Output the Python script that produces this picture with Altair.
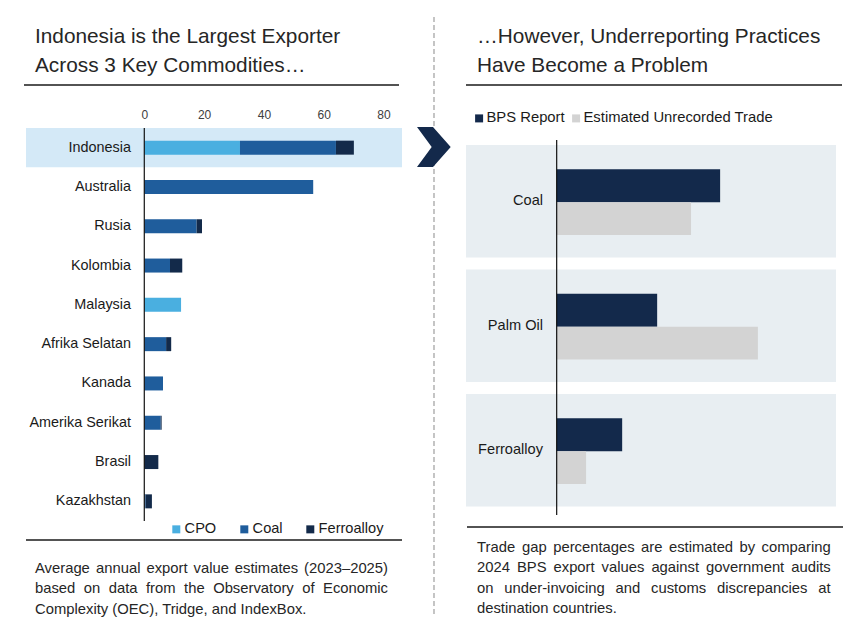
import altair as alt
import pandas as pd

# ---------------- data ----------------
countries = ["Indonesia", "Australia", "Rusia", "Kolombia", "Malaysia",
             "Afrika Selatan", "Kanada", "Amerika Serikat", "Brasil", "Kazakhstan"]
cpo_values = [32.0, 0, 0, 0, 12.3, 0, 0, 0, 0, 0]
coal_values = [32.1, 56.5, 17.5, 8.6, 0, 7.3, 6.25, 5.5, 0, 0.45]
ferro_values = [6.0, 0, 1.8, 4.1, 0, 1.7, 0, 0.3, 4.7, 2.1]
commodities = ["CPO", "Coal", "Ferroalloy"]
x_ticks = [0, 20, 40, 60, 80]
highlighted = ["Indonesia"]

products = ["Coal", "Palm Oil", "Ferroalloy"]
series = ["BPS Report", "Estimated Unrecorded Trade"]
bps_values = [58.4, 35.9, 23.4]
unrecorded_values = [48.0, 71.9, 10.5]

title_left = ["Indonesia is the Largest Exporter", "Across 3 Key Commodities…"]
title_right = ["…However, Underreporting Practices", "Have Become a Problem"]
caption_left = ["Average annual export value estimates (2023–2025)",
                "based on data from the Observatory of Economic",
                "Complexity (OEC), Tridge, and IndexBox."]
caption_right = ["Trade gap percentages are estimated by comparing",
                 "2024 BPS export values against government audits",
                 "on under-invoicing and customs discrepancies at",
                 "destination countries."]

# ---------------- styling ----------------
FONT = "Liberation Sans"
TXT = "#1a1a1a"
TITLE_C = "#262626"
C_CPO, C_COAL, C_FERRO = "#4aafe0", "#1f5d9c", "#132a4a"
C_HI = "#d4e9f7"
C_BPS, C_UNREC, C_PANEL = "#13294b", "#d3d3d3", "#e8eef2"

LW, LH = 377, 393          # left plot area (origin at 25,128)
RW, RH = 370, 393          # right plot area (origin at 466,128)
L_MIN, L_MAX = -39.9, 86.2
R_MIN, R_MAX = -32.4, 99.8

# Arial / Liberation Sans advance widths (per 1000 em) for text layout
_W = dict(zip("abcdefghijklmnopqrstuvwxyz",
              [556, 556, 500, 556, 556, 278, 556, 556, 222, 222, 500, 222, 833,
               556, 556, 556, 556, 333, 500, 278, 556, 500, 722, 500, 500, 500]))
_W.update(zip("ABCDEFGHIJKLMNOPQRSTUVWXYZ",
              [667, 667, 722, 722, 667, 611, 778, 722, 278, 500, 667, 556, 833,
               722, 778, 667, 778, 722, 667, 611, 722, 667, 944, 667, 667, 611]))
_W.update({d: 556 for d in "0123456789"})
_W.update({" ": 278, "(": 333, ")": 333, ",": 278, ".": 278, "-": 333,
           "–": 556, "…": 1000, ":": 278})


def tw(s, fs):
    return sum(_W.get(c, 556) for c in s) * fs / 1000.0


def justified_words(line, x0, x1, fs, px_to_val):
    words = line.split(" ")
    widths = [tw(w, fs) for w in words]
    gap = (x1 - x0 - sum(widths)) / max(1, len(words) - 1)
    rows, x = [], x0
    for w, wd in zip(words, widths):
        rows.append({"word": w, "x": px_to_val(x)})
        x += wd + gap
    return pd.DataFrame(rows)


def l_val(px):  # absolute page px -> left data value
    return L_MIN + (px - 25) * (L_MAX - L_MIN) / LW


def r_val(px):
    return R_MIN + (px - 466) * (R_MAX - R_MIN) / RW


one = pd.DataFrame({"k": [0]})

# ---------------- left panel ----------------
lx = alt.Scale(domain=[L_MIN, L_MAX], nice=False, zero=False)
ly = alt.Scale(domain=countries, paddingInner=0, paddingOuter=0)
lx_axis = alt.Axis(orient="top", values=x_ticks, grid=False, domain=False,
                   ticks=False, tickSize=0, labelPadding=7, labelFontSize=12,
                   labelColor="#404040", labelFont=FONT, title=None, zindex=2)

rows = []
for i, c in enumerate(countries):
    for j, (name, arr) in enumerate(zip(commodities, [cpo_values, coal_values, ferro_values])):
        rows.append({"country": c, "commodity": name, "value": arr[i], "ord": j})
left_df = pd.DataFrame(rows)
cty_df = pd.DataFrame({"country": countries, "lx": [l_val(131)] * len(countries)})
hi_df = pd.DataFrame({"country": highlighted, "a": [l_val(26)], "b": [L_MAX]})

bg = alt.Chart(one).mark_rect(color="white").encode(
    x=alt.value(-25), x2=alt.value(840), y=alt.value(-128), y2=alt.value(502))

hi = alt.Chart(hi_df).mark_bar(color=C_HI).encode(
    y=alt.Y("country:N", scale=ly, axis=None),
    x=alt.X("a:Q", scale=lx, axis=lx_axis), x2="b:Q")

bars = alt.Chart(left_df).mark_bar(size=14).encode(
    y=alt.Y("country:N", scale=ly, axis=None),
    x=alt.X("value:Q", stack="zero", scale=lx, axis=lx_axis),
    color=alt.Color("commodity:N",
                    scale=alt.Scale(domain=commodities, range=[C_CPO, C_COAL, C_FERRO]),
                    legend=alt.Legend(orient="none", legendX=144, legendY=394,
                                      direction="horizontal", title=None,
                                      symbolType="square", symbolSize=64,
                                      symbolStrokeWidth=0, labelFontSize=14.6,
                                      labelFont=FONT, labelColor=TXT, labelLimit=400,
                                      columnPadding=20, labelOffset=1, padding=0)),
    order=alt.Order("ord:Q"))

cty = alt.Chart(cty_df).mark_text(align="right", baseline="middle", fontSize=14.4,
                                  font=FONT, color=TXT).encode(
    y=alt.Y("country:N", scale=ly, axis=None),
    x=alt.X("lx:Q", scale=lx, axis=lx_axis), text="country:N")

zero_l = alt.Chart(pd.DataFrame({"z": [0.0]})).mark_rule(color="#111111", strokeWidth=1.2).encode(
    x=alt.X("z:Q", scale=lx, axis=lx_axis))

t_left = alt.Chart(one).mark_text(text=title_left, align="left", baseline="alphabetic",
                                  fontSize=20.8, lineHeight=29, font=FONT,
                                  color=TITLE_C).encode(
    x=alt.value(10), y=alt.value(-85))

line_l1 = alt.Chart(one).mark_rule(color="#1a1a1a", strokeWidth=1.6).encode(
    x=alt.value(-1), x2=alt.value(374), y=alt.value(-43))
line_l2 = alt.Chart(one).mark_rule(color="#1a1a1a", strokeWidth=1.6).encode(
    x=alt.value(1), x2=alt.value(377), y=alt.value(412))

sep = alt.Chart(one).mark_rule(color="#a6a6a6", strokeWidth=1.3, strokeDash=[5, 3]).encode(
    x=alt.value(409), y=alt.value(-111), y2=alt.value(489))

chev = alt.Chart(one).mark_point(
    shape="M-0.85,-1L-0.05,-1L0.835,0L-0.05,1L-0.85,1L-0.115,0Z",
    size=1600, filled=True, color=C_BPS, opacity=1, strokeWidth=0).encode(
    x=alt.value(409), y=alt.value(19))

CAP_FS = 14.8
cap_l_layers = []
for i, line in enumerate(caption_left):
    ybase = 572.7 + i * 20.5 - 128
    if i < len(caption_left) - 1:
        dfw = justified_words(line, 35, 388, CAP_FS, l_val)
    else:
        dfw = pd.DataFrame({"word": [line], "x": [l_val(35)]})
    cap_l_layers.append(
        alt.Chart(dfw).mark_text(align="left", baseline="alphabetic", fontSize=CAP_FS,
                                 font=FONT, color=TITLE_C).encode(
            x=alt.X("x:Q", scale=lx, axis=lx_axis), y=alt.value(ybase), text="word:N"))

left = alt.layer(bg, hi, bars, zero_l, cty, t_left, line_l1, line_l2, sep, chev,
                 *cap_l_layers).properties(width=LW, height=LH)

# ---------------- right panel ----------------
rx = alt.Scale(domain=[R_MIN, R_MAX], nice=False, zero=False)
ry = alt.Scale(domain=products, paddingInner=0.0964, paddingOuter=0.1265, align=0.54)

r_rows = []
for i, p in enumerate(products):
    r_rows.append({"product": p, "series": series[0], "val": bps_values[i]})
    r_rows.append({"product": p, "series": series[1], "val": unrecorded_values[i]})
right_df = pd.DataFrame(r_rows)
panel_df = pd.DataFrame({"product": products, "a": [R_MIN] * 3, "b": [R_MAX] * 3,
                         "lx": [r_val(543)] * 3})

panels = alt.Chart(panel_df).mark_bar(color=C_PANEL).encode(
    y=alt.Y("product:N", scale=ry, axis=None),
    x=alt.X("a:Q", scale=rx, axis=None), x2="b:Q")

plabels = alt.Chart(panel_df).mark_text(align="right", baseline="middle", fontSize=14.6,
                                        font=FONT, color=TXT).encode(
    y=alt.Y("product:N", scale=ry, axis=None),
    x=alt.X("lx:Q", scale=rx, axis=None), text="product:N")

rbars = alt.Chart(right_df).mark_bar().encode(
    y=alt.Y("product:N", scale=ry, axis=None),
    yOffset=alt.YOffset("series:N", scale=alt.Scale(domain=series, paddingInner=0,
                                                     paddingOuter=0.712, align=0.52)),
    x=alt.X("val:Q", scale=rx, axis=None),
    color=alt.Color("series:N", scale=alt.Scale(domain=series, range=[C_BPS, C_UNREC]),
                    legend=alt.Legend(orient="none", legendX=5.7, legendY=-17.4,
                                      direction="horizontal", title=None,
                                      symbolType="square", symbolSize=64,
                                      symbolStrokeWidth=0, labelFontSize=14.8,
                                      labelFont=FONT, labelColor=TXT, labelLimit=400,
                                      columnPadding=4, labelOffset=0, padding=0)))

zero_r = alt.Chart(pd.DataFrame({"z": [0.0]})).mark_rule(color="#111111", strokeWidth=1.2).encode(
    x=alt.X("z:Q", scale=rx, axis=None), y=alt.value(12), y2=alt.value(387))

t_right = alt.Chart(one).mark_text(text=title_right, align="left", baseline="alphabetic",
                                   fontSize=20.8, lineHeight=29, font=FONT,
                                   color=TITLE_C).encode(
    x=alt.value(11), y=alt.value(-85))

line_r1 = alt.Chart(one).mark_rule(color="#1a1a1a", strokeWidth=1.6).encode(
    x=alt.value(0), x2=alt.value(376), y=alt.value(-43))
line_r2 = alt.Chart(one).mark_rule(color="#1a1a1a", strokeWidth=1.6).encode(
    x=alt.value(1), x2=alt.value(377), y=alt.value(399))

cap_r_layers = []
for i, line in enumerate(caption_right):
    ybase = 551.7 + i * 20.5 - 128
    if i < len(caption_right) - 1:
        dfw = justified_words(line, 477, 830.7, CAP_FS, r_val)
    else:
        dfw = pd.DataFrame({"word": [line], "x": [r_val(477)]})
    cap_r_layers.append(
        alt.Chart(dfw).mark_text(align="left", baseline="alphabetic", fontSize=CAP_FS,
                                 font=FONT, color=TITLE_C).encode(
            x=alt.X("x:Q", scale=rx, axis=None), y=alt.value(ybase), text="word:N"))

right = alt.layer(panels, plabels, rbars, zero_r, t_right, line_r1, line_r2,
                  *cap_r_layers).properties(width=RW, height=RH)

chart = alt.hconcat(left, right, spacing=64, bounds="flush").resolve_scale(
    x="independent", y="independent", color="independent"
).resolve_legend(color="independent").configure_view(stroke=None).properties(
    padding=0, background="white")

chart.save("out.html", embed_options={"renderer": "svg", "actions": False})
